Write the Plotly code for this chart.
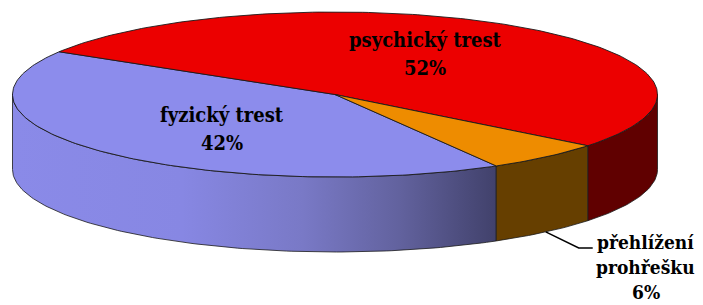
import numpy as np
import plotly.graph_objects as go

# ---- data ----
labels = ["fyzický trest", "psychický trest", "přehlížení prohřešku"]
values = [42, 52, 6]

# ---- styles ----
top_colors = ["#8C8CEC", "#EC0000", "#EE8C00"]
side_colors = [
    [[0.0, "#8A8AE8"], [0.35, "#8787E3"], [0.6, "#7979C6"], [0.8, "#62629E"], [1.0, "#41416B"]],
    "#600000",
    "#663F00",
]
EDGE = "#1a1a1a"
FONT = dict(family="DejaVu Serif Condensed, DejaVu Serif", size=20, color="black")
FONT_OUT = dict(family="DejaVu Serif Condensed, DejaVu Serif", size=19, color="black")

# page offset (default body margin of the html page)
OFF = 8

# ---- geometry of the tilted pie (pixel space) ----
CX, CY, RX, RY, DEPTH = 335.0, 94.5, 322.5, 82.5, 75.0
START = 60.0  # degrees, clockwise on screen


def pt(theta_deg, dz=0.0):
    t = np.radians(theta_deg)
    return CX + RX * np.cos(t), CY + RY * np.sin(t) + dz


def arc(a0, a1, dz=0.0):
    n = max(2, int(abs(a1 - a0)) + 2)
    th = np.linspace(a0, a1, n)
    x, y = pt(th, dz)
    return list(x), list(y)


total = float(sum(values))
bounds = []
acc = START
for v in values:
    span = 360.0 * v / total
    bounds.append((acc, acc + span))
    acc += span

fig = go.Figure()

# side walls (front half only)
for i, (a0, a1) in enumerate(bounds):
    for k in range(-1, 3):
        s = max(a0, 360 * k)
        e = min(a1, 360 * k + 180)
        if e <= s:
            continue
        tx, ty = arc(s, e)
        bx, by = arc(e, s, DEPTH)
        xs = tx + bx + [tx[0]]
        ys = ty + by + [ty[0]]
        kw = dict(x=xs, y=ys, mode="lines", fill="toself",
                  line=dict(color=EDGE, width=0.8),
                  hoverinfo="skip", showlegend=False)
        sc = side_colors[i]
        if isinstance(sc, list):
            kw["fillgradient"] = dict(type="horizontal", colorscale=sc)
        else:
            kw["fillcolor"] = sc
        fig.add_trace(go.Scatter(**kw))

# top faces
for i, (a0, a1) in enumerate(bounds):
    ax, ay = arc(a0, a1)
    xs = [CX] + ax + [CX]
    ys = [CY] + ay + [CY]
    fig.add_trace(go.Scatter(x=xs, y=ys, mode="lines", fill="toself",
                             fillcolor=top_colors[i],
                             line=dict(color=EDGE, width=0.9),
                             hoverinfo="skip", showlegend=False))

# labels
annotations = []
LINE = 28
for i, (a0, a1) in enumerate(bounds):
    mid = (a0 + a1) / 2.0
    pct = f"{round(100 * values[i] / total)}%"
    if values[i] / total > 0.15:
        t = np.radians(mid)
        lx = CX + 0.49 * RX * np.cos(t)
        ly = CY + 0.60 * RY * np.sin(t)
        lines = [labels[i], pct]
        y0 = ly - LINE * (len(lines) - 1) / 2.0
        for j, txt in enumerate(lines):
            annotations.append(dict(x=lx, y=y0 + j * LINE, text=f"<b>{txt}</b>",
                                    showarrow=False, xanchor="center", yanchor="middle",
                                    font=FONT, xref="x", yref="y"))
    else:
        sx, sy = pt(mid, DEPTH)
        ex, ey = sx + 33, sy + 16
        fx = ex + 14
        fig.add_trace(go.Scatter(x=[sx, ex, fx], y=[sy, ey, ey], mode="lines",
                                 line=dict(color="black", width=1.5),
                                 hoverinfo="skip", showlegend=False))
        lines = labels[i].split(" ") + [pct]
        lx = ex + 67
        for j, txt in enumerate(lines):
            annotations.append(dict(x=lx, y=ey - 6 + j * 25, text=f"<b>{txt}</b>",
                                    showarrow=False, xanchor="center", yanchor="middle",
                                    font=FONT_OUT, xref="x", yref="y"))

fig.update_layout(
    width=703, height=305,
    margin=dict(l=0, r=0, t=0, b=0),
    paper_bgcolor="white", plot_bgcolor="white",
    xaxis=dict(range=[OFF, 703 + OFF], visible=False, fixedrange=True),
    yaxis=dict(range=[305 + OFF, OFF], visible=False, fixedrange=True),
    annotations=annotations,
)

fig.write_html("out.html")
